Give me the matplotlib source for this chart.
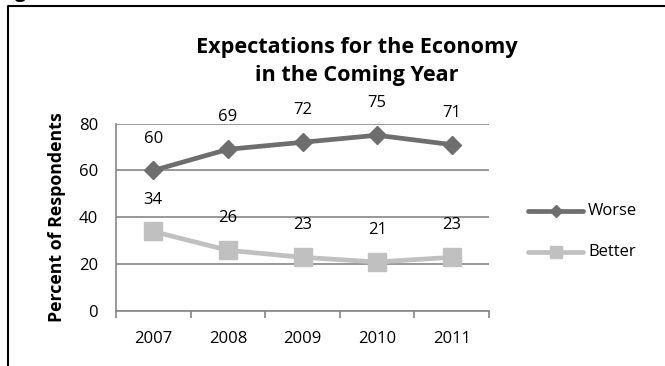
import matplotlib
matplotlib.use("Agg")
import matplotlib.pyplot as plt
from matplotlib.lines import Line2D

years = ["2007", "2008", "2009", "2010", "2011"]
worse = [60, 69, 72, 75, 71]
better = [34, 26, 23, 21, 23]
y_ticks = [0, 20, 40, 60, 80]

W, H = 665, 366
DPI = 100
FONT = "Open Sans"
plt.rcParams["font.family"] = [FONT, "DejaVu Sans"]

fig = plt.figure(figsize=(W / DPI, H / DPI), dpi=DPI)

def px_box(left, top, right, bottom):
    return [left / W, 1 - bottom / H, (right - left) / W, (bottom - top) / H]

ax = fig.add_axes(px_box(116, 123.5, 489, 311.3))

grid_c = "#868686"
worse_c = "#6e6e6e"
better_c = "#c0c0c0"
fs = 12

x = list(range(len(years)))
ax.plot(x, worse, color=worse_c, lw=3.4, marker="D", ms=9.5, mec=worse_c,
        mfc=worse_c, solid_capstyle="round", zorder=3, label="Worse")
ax.plot(x, better, color=better_c, lw=3.4, marker="s", ms=13.5, mec=better_c,
        mfc=better_c, solid_capstyle="round", zorder=3, label="Better")

for xi, v in zip(x, worse):
    ax.annotate(str(v), (xi, v), xytext=(0, 23), textcoords="offset points",
                ha="center", va="center", fontsize=fs)
for xi, v in zip(x, better):
    ax.annotate(str(v), (xi, v), xytext=(0, 23), textcoords="offset points",
                ha="center", va="center", fontsize=fs)

ax.set_xlim(-0.5, len(years) - 0.5)
ax.set_ylim(0, 80)
ax.set_yticks(y_ticks)
ax.set_yticklabels([str(t) for t in y_ticks], fontsize=fs)
ax.tick_params(axis="y", length=0, pad=13)

ax.set_xticks([i - 0.5 for i in range(len(years) + 1)])
ax.set_xticklabels([])
ax.set_xticks(x, minor=True)
ax.set_xticklabels(years, minor=True, fontsize=fs)
ax.tick_params(axis="x", which="major", length=5, width=1.2, color=grid_c, direction="out")
ax.tick_params(axis="x", which="minor", length=0, pad=14)

ax.grid(axis="y", color=grid_c, lw=1.2)
ax.set_axisbelow(True)
for s in ["top", "right"]:
    ax.spines[s].set_visible(False)
for s in ["left", "bottom"]:
    ax.spines[s].set_color(grid_c)
    ax.spines[s].set_linewidth(1.2)

ax.set_ylabel("Percent of Respondents", fontsize=12.8, fontweight="bold", labelpad=9)

fig.text(357 / W, 1 - 61.5 / H, "Expectations for the Economy\nin the Coming Year",
         ha="center", va="center", fontsize=15.6, fontweight="bold", linespacing=1.45)

# legend drawn in figure pixel coordinates
for label, y_px, col, mk, ms in [("Worse", 211, worse_c, "D", 6), ("Better", 252, better_c, "s", 8)]:
    yf = 1 - y_px / H
    fig.add_artist(Line2D([528 / W, 583 / W], [yf, yf], color=col, lw=3.4,
                          solid_capstyle="round", transform=fig.transFigure))
    fig.add_artist(Line2D([555.5 / W], [yf], color=col, marker=mk, ms=ms,
                          mec=col, mfc=col, transform=fig.transFigure))
    fig.text(588 / W, yf, label, ha="left", va="center", fontsize=fs)

# outer frame
fig.add_artist(Line2D([7.5 / W, 7.5 / W, 1.0], [0.0, 1 - 5.5 / H, 1 - 5.5 / H],
                      color="black", lw=1.5, transform=fig.transFigure))
fig.text(15 / W, 1 + 3 / H, "g", ha="left", va="baseline", fontsize=14, fontweight="bold")

fig.savefig("out.png", dpi=DPI)
